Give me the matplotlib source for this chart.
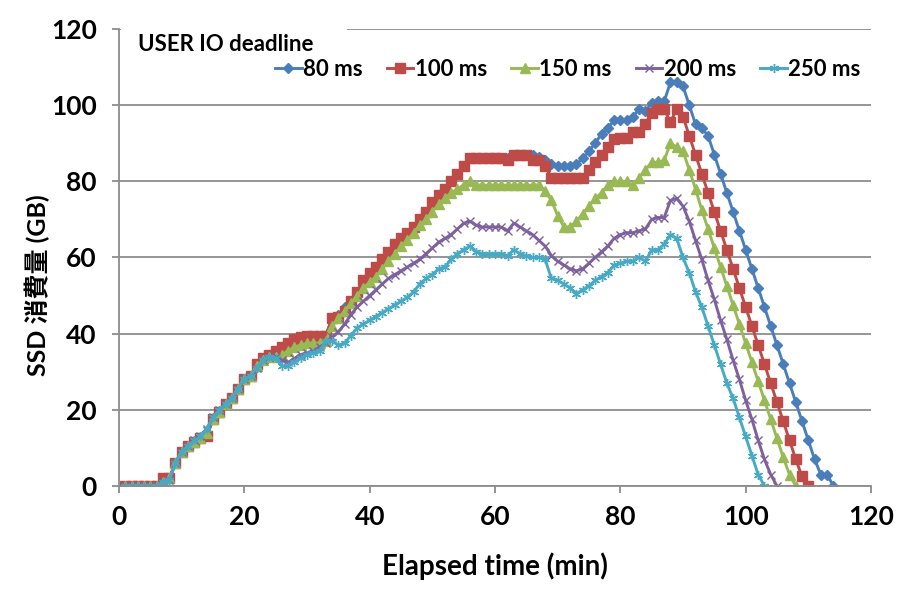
import matplotlib
matplotlib.use("Agg")
import matplotlib.pyplot as plt
from matplotlib.patches import Rectangle

# SSD usage per minute for each USER IO deadline (GB)
labels = ["80 ms", "100 ms", "150 ms", "200 ms", "250 ms"]
colors = ["#4A7EBB", "#BE4B48", "#98B954", "#7D60A0", "#46AAC5"]

ssd_80 = [0, 0, 0, 0, 0, 0, 2, 2, 6, 9, 10.5, 11.5, 12.5, 14, 17.5, 19.5, 21.5, 23, 25.5, 28,
          29, 32, 33.5, 34.5, 35.5, 36.5, 37.5, 38.5, 39, 39.5,
          39.5, 39.5, 39.5, 44, 45, 47, 48.5, 51, 54, 56,
          57.5, 59.5, 61.5, 63.5, 65, 66.5, 68, 70, 72, 74.5,
          76.5, 78, 80, 82, 84, 86, 86, 86, 86, 86,
          86, 86, 87, 87, 87, 87, 86.5, 85.5, 84.5, 84,
          84, 84, 84.5, 86, 88, 90, 92.5, 94, 96, 96,
          96, 97, 99, 98.5, 100.5, 101, 101, 106, 106, 105,
          100, 95, 94, 92, 87, 82, 77, 72, 67, 62,
          57, 52, 47, 42, 37, 32, 27, 22, 17, 12,
          7, 3, 3, 0]

ssd_100 = [0, 0, 0, 0, 0, 0, 2, 2, 6, 9, 10.5, 11.5, 12.5, 13, 17.5, 19.5, 21.5, 23, 25.5, 28,
           29, 32, 33.5, 34.5, 35.5, 36.5, 37.5, 38.5, 39, 39.5,
           39.5, 39.5, 39.5, 44, 44.5, 46, 48.5, 51, 54, 56,
           57.5, 59.5, 61.5, 63.5, 65, 66.5, 68, 70, 72, 74.5,
           76.5, 78, 80, 82, 84, 86, 86, 86, 86, 86,
           86, 85.5, 87, 87, 87, 85.5, 85.5, 84, 81, 81,
           81, 81, 81, 81, 83, 85, 87, 89, 91, 91.5,
           91.5, 93, 93, 95, 98, 99, 99, 95.5, 99, 97,
           92, 87, 82, 77, 72, 67, 62, 57, 52, 47,
           42, 37, 32, 27, 22, 17, 12, 7, 2.5, 0]

ssd_150 = [0, 0, 0, 0, 0, 0, 1, 2, 6, 9, 10.5, 11.5, 12.5, 14, 17.5, 19.5, 21.5, 23, 25.5, 28,
           29, 31.5, 33, 34, 34, 34.5, 35.5, 36.5, 37, 37.5,
           37.5, 37.5, 38, 42, 44, 46, 48, 50, 52, 53.5,
           55, 57, 59, 61, 63, 64.5, 66.5, 68.5, 70, 72,
           74, 75.5, 77, 78, 79, 80, 79, 79, 79, 79,
           79, 79, 79, 79, 79, 79, 79, 77.5, 75, 71,
           68, 68, 69.5, 71.5, 73.5, 75.5, 77, 79, 80, 80,
           80, 79, 81, 83, 85, 85, 85.5, 90, 89, 88,
           83, 78, 72.5, 67.5, 62.5, 57.5, 52.5, 47.5, 42.5, 37.5,
           32.5, 27.5, 22.5, 17.5, 12.5, 7.5, 3, 0]

ssd_200 = [0, 0, 0, 0, 0, 0, 1, 1.5, 6, 9, 10.5, 12, 13, 15, 18, 20, 21.5, 23, 25.5, 28,
           29, 31, 33, 34, 34, 33, 32.5, 33.5, 34.5, 35,
           35.5, 36.5, 37.5, 39, 40.5, 42.5, 45, 47, 48.5, 50,
           51.5, 53, 54.5, 55.5, 56.5, 57.5, 58.5, 59.5, 61, 62.5,
           64, 65, 66, 67.5, 69, 69.5, 68.5, 68, 68, 68,
           68, 67, 69, 68, 67, 66, 64.5, 63, 60.5, 59,
           58, 57, 56.5, 57, 58.5, 60, 61.5, 63, 65, 66,
           66.5, 66.5, 67, 67.5, 70, 70.5, 70.5, 75, 75.5, 73.5,
           69.5, 64.5, 59.5, 54, 49, 43.5, 38.5, 33, 28, 22.5,
           17.5, 12, 7, 3, 0]

ssd_250 = [0, 0, 0, 0, 0, 0, 1, 1.5, 6, 9, 10.5, 12, 13, 15, 18, 20, 21.5, 23, 25.5, 28,
           29, 31, 33, 34, 33.5, 31.5, 31.5, 32.5, 33.5, 34.5,
           35, 35.5, 38, 38, 37, 37.5, 39.5, 41.5, 42.5, 43.5,
           44.5, 45.5, 46.5, 47.5, 48.5, 49.5, 51, 53, 54.5, 55.5,
           57, 57.5, 59.5, 61, 62, 63, 61.5, 61, 61, 61,
           61, 60.5, 62, 61, 60.5, 60, 60, 59.5, 54.5, 54,
           53, 52, 50.5, 51.5, 52.5, 54, 55, 56, 58, 58.5,
           59, 59, 60, 59, 62, 62, 63.5, 66, 65, 60,
           56, 51, 47, 42, 37, 32, 27, 23, 18, 13,
           8, 3, 0]

series = [ssd_80, ssd_100, ssd_150, ssd_200, ssd_250]
markers = ["D", "s", "^", "x", (6, 2, 0)]
msizes = [5, 6.5, 6.5, 5.5, 6.5]

plt.rcParams["font.family"] = ["Lato", "Noto Sans CJK JP", "DejaVu Sans"]
plt.rcParams["font.weight"] = "bold"

fig = plt.figure(figsize=(9.05, 5.98), dpi=100)
ax = fig.add_axes([0.1315, 0.1873, 0.8309, 0.7642])

grid_c = "#8C8C8C"
for vals, lab, c, m, ms in zip(series, labels, colors, markers, msizes):
    t = list(range(1, len(vals) + 1))
    ax.plot(t, vals, color=c, lw=2.1, marker=m, markersize=ms,
            markeredgewidth=1.0, markeredgecolor=c, markerfacecolor=c, label=lab)

ax.set_xlim(0, 120)
ax.set_ylim(0, 120)
ax.set_xticks(range(0, 121, 20))
ax.set_yticks(range(0, 121, 20))
ax.yaxis.grid(True, color=grid_c, lw=1.3)
ax.set_axisbelow(True)
for s in ["top", "right"]:
    ax.spines[s].set_visible(False)
for s in ["left", "bottom"]:
    ax.spines[s].set_color(grid_c)
    ax.spines[s].set_linewidth(1.3)
ax.tick_params(axis="both", colors=grid_c, length=5, width=1.3, labelsize=19,
               labelcolor="black")
ax.tick_params(axis="y", pad=11)
ax.tick_params(axis="x", pad=9)
for lbl in ax.get_xticklabels() + ax.get_yticklabels():
    lbl.set_fontweight("bold")

ax.set_xlabel("Elapsed time (min)", fontsize=20, fontweight="bold")
ax.xaxis.set_label_coords(0.5, -0.145)
ax.set_ylabel("SSD 消費量 (GB)", fontsize=18, fontweight="bold")
ax.yaxis.set_label_coords(-0.092, 0.44)

# white box behind the legend title hides the top gridline
ax.add_patch(Rectangle((0.002, 0.94), 0.301, 0.07, transform=ax.transAxes,
                       facecolor="white", edgecolor="none", zorder=1, clip_on=False))
ax.text(0.025, 0.965, "USER IO deadline", transform=ax.transAxes, fontsize=16,
        fontweight="bold", ha="left", va="center", zorder=3)

leg = ax.legend(loc="center right", bbox_to_anchor=(0.986, 0.912), ncol=5,
                frameon=False, fontsize=16, handlelength=1.2, handletextpad=0.05,
                columnspacing=1.1, borderaxespad=0, borderpad=0)
for txt in leg.get_texts():
    txt.set_fontweight("bold")

fig.savefig("out.png", dpi=100)
